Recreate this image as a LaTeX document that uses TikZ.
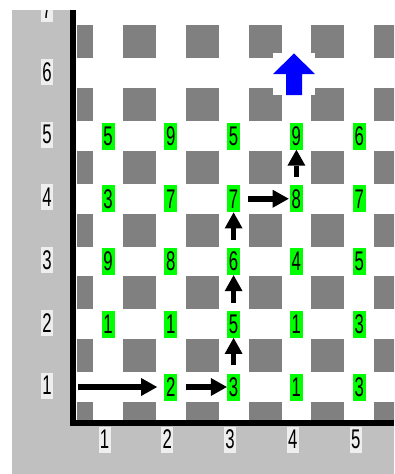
\documentclass[tikz,border=0pt]{standalone}
\usepackage{fontspec}
\newfontfamily\gridfont[FakeStretch=0.62]{Liberation Sans}
\usetikzlibrary{arrows.meta}
\definecolor{panel}{HTML}{C0C0C0}
\definecolor{tile}{HTML}{808080}
\definecolor{cellgreen}{HTML}{00FF00}
\definecolor{tagbg}{HTML}{EEEEEE}
\definecolor{goalblue}{HTML}{0000FF}
\tikzset{
  cell/.style={fill=cellgreen,inner sep=0pt,minimum width=13pt,minimum height=27pt,
               font=\gridfont\fontsize{27}{27}\selectfont},
  tag/.style={fill=tagbg,inner sep=0pt,minimum width=12pt,minimum height=26pt,
              font=\gridfont\fontsize{27}{27}\selectfont},
  move/.style={-{Triangle[length=16pt,width=18pt,line width=0pt]},line width=5.5pt,
               shorten <=8pt}
}

\begin{document}
\begin{tikzpicture}[x=1pt,y=-1pt]
        \useasboundingbox (0,0) rectangle (394,474);
        % frame
        \fill[panel] (12,10) rectangle (394,474);
        \fill[white] (76,0) rectangle (394,421);
        \begin{scope}
          \clip (77,0) rectangle (394,420);
          \foreach \i in {0,...,5}{
            \foreach \j in {0,...,6}{
              \fill[tile] ({76.6+62.8*\i-16.5},{418.4-62.75*\j-16.5}) rectangle ++(33,33);
            }
          }
        \end{scope}
        \draw[line width=6pt] (73,10) -- (73,423) -- (394,423);
        % axis labels
        \begin{scope}
          \clip (12,10) rectangle (70,474);
          \foreach \r in {1,...,7}
            \node[tag] (row\r) at (47,{385.5-62.75*(\r-1)}) {\r};
        \end{scope}
        \foreach \c in {1,...,5}
          \node[tag] (col\c) at ({104.5+62.8*(\c-1)},439.5) {\c};
        % numbers
        \foreach \c/\r/\v in {1/5/5, 2/5/9, 3/5/5, 4/5/9, 5/5/6,
                              1/4/3, 2/4/7, 3/4/7, 4/4/8, 5/4/7,
                              1/3/9, 2/3/8, 3/3/6, 4/3/4, 5/3/5,
                              1/2/1, 2/2/1, 3/2/5, 4/2/1, 5/2/3,
                              2/1/2, 3/1/3, 4/1/1, 5/1/3}
          \node[cell] (n\c\r) at ({108+62.8*(\c-1)},{387-62.75*(\r-1)}) {\v};
        % path
        \coordinate (start) at (78,387);
        \draw[move,shorten <=0pt,shorten >=7pt] (start) -- (n21);
        \draw[move] (n21) -- (n31);
        \draw[move] (n31) -- (n32);
        \draw[move] (n32) -- (n33);
        \draw[move] (n33) -- (n34);
        \draw[move,shorten >=1pt] (n34) -- (n44);
        \draw[move] (n44) -- (n45);
        % goal
        \node[fill=white,inner sep=0pt,minimum size=42pt] (goal) at (294,74) {};
        \fill[goalblue] (goal) ++(0,-20.7) -- ++(20.8,20.7) -- ++(-12.8,0) -- ++(0,21)
          -- ++(-16,0) -- ++(0,-21) -- ++(-12.8,0) -- cycle;
      \end{tikzpicture}
\end{document}
